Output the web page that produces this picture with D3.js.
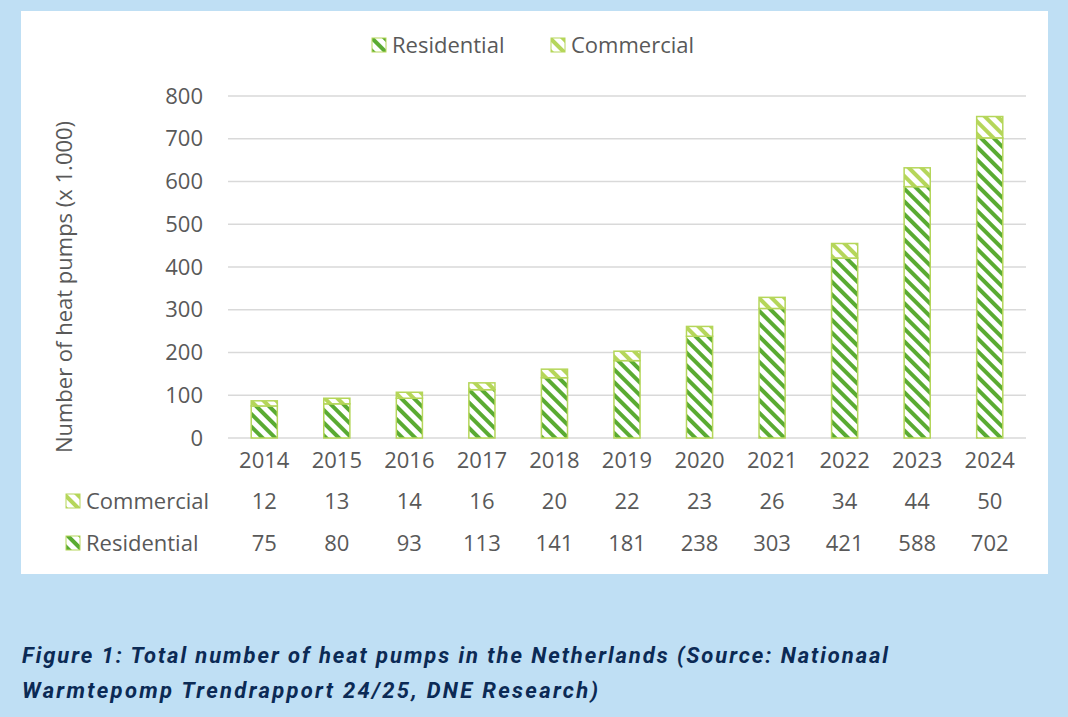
<!DOCTYPE html>
<html><head><meta charset="utf-8">
<script src="https://cdn.jsdelivr.net/npm/d3@7"></script>
<style>
body{margin:0;background:#bfdff4;width:1068px;height:717px;overflow:hidden}
</style></head><body>
<script>
const years = ["2014","2015","2016","2017","2018","2019","2020","2021","2022","2023","2024"];
const residential = [75, 80, 93, 113, 141, 181, 238, 303, 421, 588, 702];
const commercial = [12, 13, 14, 16, 20, 22, 23, 26, 34, 44, 50];
const yTicks = [0, 100, 200, 300, 400, 500, 600, 700, 800];

const dark = "#5aab32", light = "#b5d65a";
const font = "'Open Sans', Calibri, sans-serif";

const svg = d3.select("body").append("svg").attr("width", 1068).attr("height", 717);
const defs = svg.append("defs");
function hatch(id, color) {
  const p = defs.append("pattern").attr("id", id).attr("patternUnits", "userSpaceOnUse")
    .attr("width", 9).attr("height", 9).attr("patternTransform", "rotate(-45)");
  p.append("rect").attr("width", 9).attr("height", 9).attr("fill", "#fff");
  p.append("rect").attr("x", 0).attr("width", 4).attr("height", 9).attr("fill", color);
}
hatch("hr", dark);
hatch("hc", light);

svg.append("rect").attr("x", 21).attr("y", 11).attr("width", 1027).attr("height", 563).attr("fill", "#fff");

const x = d3.scaleBand().domain(years).range([228, 1026]).paddingInner(0.64).paddingOuter(0.32);
const y = d3.scaleLinear().domain([0, 800]).range([438, 96]);

svg.append("g").selectAll("line").data(yTicks).join("line")
  .attr("x1", 228).attr("x2", 1026).attr("y1", d => y(d)).attr("y2", d => y(d))
  .attr("stroke", "#d9d9d9").attr("stroke-width", 1.3);

svg.append("g").selectAll("text").data(yTicks).join("text")
  .attr("x", 203).attr("y", d => y(d)).attr("dy", "0.35em").attr("text-anchor", "end")
  .attr("font-family", font).attr("font-size", 22).attr("fill", "#595959").text(d => d);

svg.append("text").attr("transform", "translate(72,287) rotate(-90)").attr("text-anchor", "middle")
  .attr("font-family", font).attr("font-size", 22).attr("fill", "#595959").text("Number of heat pumps (x 1.000)");

const g = svg.append("g");
years.forEach((yr, i) => {
  g.append("rect").attr("x", x(yr)).attr("width", x.bandwidth())
    .attr("y", y(residential[i])).attr("height", y(0) - y(residential[i]))
    .attr("fill", "url(#hr)").attr("stroke", light).attr("stroke-width", 1.5);
  g.append("rect").attr("x", x(yr)).attr("width", x.bandwidth())
    .attr("y", y(residential[i] + commercial[i])).attr("height", y(0) - y(commercial[i]))
    .attr("fill", "url(#hc)").attr("stroke", light).attr("stroke-width", 1.5);
});

const colText = (arr, yy) => svg.append("g").selectAll("text").data(arr).join("text")
  .attr("x", (d, i) => x(years[i]) + x.bandwidth() / 2).attr("y", yy).attr("text-anchor", "middle")
  .attr("font-family", font).attr("font-size", 22).attr("fill", "#595959").text(d => d);
colText(years, 468);
colText(commercial, 509);
colText(residential, 551);

function legendKey(xx, yy, id, label) {
  svg.append("rect").attr("x", xx).attr("y", yy - 7).attr("width", 14).attr("height", 14)
    .attr("fill", `url(#${id})`).attr("stroke", light).attr("stroke-width", 1);
  svg.append("text").attr("x", xx + 20).attr("y", yy).attr("dy", "0.35em")
    .attr("font-family", font).attr("font-size", 22).attr("fill", "#595959").text(label);
}
legendKey(66, 501, "hc", "Commercial");
legendKey(66, 543, "hr", "Residential");
legendKey(372, 45, "hr", "Residential");
legendKey(551, 45, "hc", "Commercial");

const cap = svg.append("text").attr("font-family", "Roboto, Arial, sans-serif").attr("font-size", 22)
  .attr("font-weight", "bold").attr("font-style", "italic").attr("fill", "#0b2a55");
cap.append("tspan").attr("x", 22).attr("y", 663).attr("textLength", 866).attr("lengthAdjust", "spacing")
  .text("Figure 1: Total number of heat pumps in the Netherlands (Source: Nationaal");
cap.append("tspan").attr("x", 22).attr("y", 698).attr("textLength", 576).attr("lengthAdjust", "spacing")
  .text("Warmtepomp Trendrapport 24/25, DNE Research)");
</script>
</body></html>
